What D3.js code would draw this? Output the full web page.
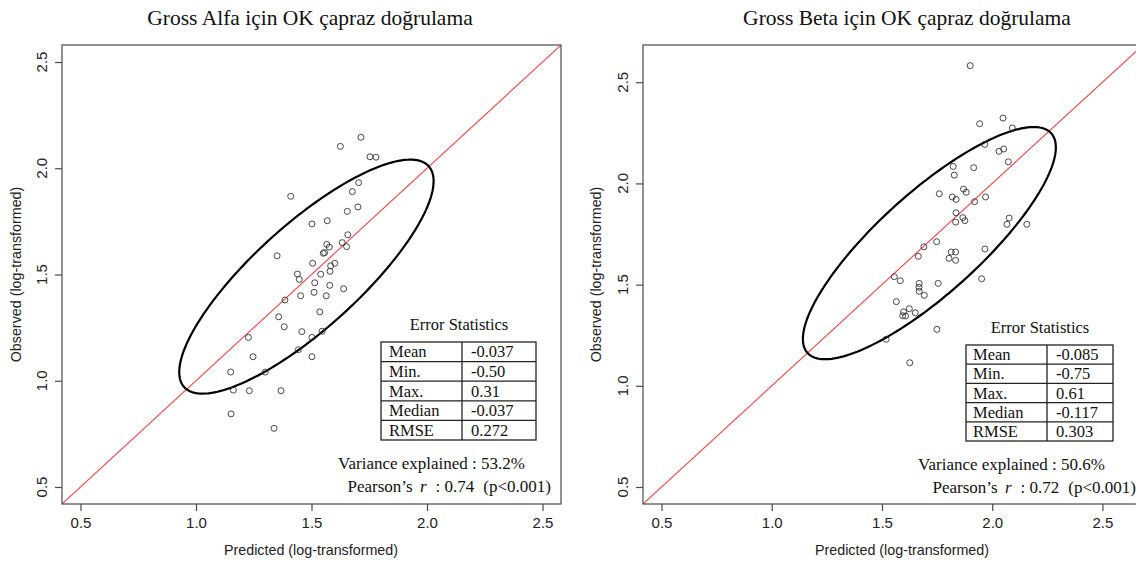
<!DOCTYPE html>
<html><head><meta charset="utf-8">
<script src="https://cdn.jsdelivr.net/npm/d3@7"></script>
<style>body{margin:0;background:#fff;overflow:hidden} svg{display:block}</style>
</head><body>
<svg id="chart" width="1136" height="563"></svg>
<script>
// ---------- data ----------
const tickValues = [0.5, 1.0, 1.5, 2.0, 2.5];
const statLabels = ["Mean", "Min.", "Max.", "Median", "RMSE"];

const alfaPredicted = [1.714,1.625,1.753,1.779,1.704,1.677,1.410,1.701,1.655,1.568,1.502,1.657,1.633,1.566,1.577,1.652,1.551,1.557,1.351,1.505,1.601,1.583,1.580,1.439,1.447,1.540,1.514,1.579,1.639,1.453,1.511,1.564,1.385,1.536,1.358,1.382,1.458,1.546,1.502,1.227,1.443,1.247,1.502,1.150,1.300,1.162,1.231,1.368,1.152,1.338];
const alfaObserved  = [2.146,2.103,2.054,2.052,1.932,1.890,1.868,1.818,1.797,1.753,1.738,1.687,1.650,1.642,1.629,1.631,1.600,1.603,1.588,1.553,1.553,1.541,1.515,1.502,1.477,1.501,1.461,1.449,1.433,1.400,1.416,1.400,1.380,1.324,1.301,1.254,1.231,1.233,1.204,1.204,1.146,1.113,1.113,1.041,1.041,0.956,0.953,0.953,0.844,0.776];
const alfaStats = ["-0.037", "-0.50", "0.31", "-0.037", "0.272"];
const alfaVariance = "53.2%";
const alfaPearson = "0.74";
const alfaEllipse = {cx: 1.478, cy: 1.490, a: 0.742, b: 0.236, angle: 45};

const betaPredicted = [1.900,1.943,2.049,2.091,1.966,2.031,2.052,2.073,1.823,1.916,1.828,1.870,1.882,1.760,1.819,1.836,1.970,1.920,1.836,1.867,1.876,1.834,2.077,2.067,2.157,1.748,1.690,1.665,1.814,1.834,1.804,1.834,1.967,1.556,1.583,1.669,1.755,1.952,1.668,1.669,1.692,1.565,1.624,1.651,1.598,1.594,1.607,1.749,1.519,1.626];
const betaObserved  = [2.582,2.295,2.323,2.274,2.193,2.159,2.170,2.107,2.084,2.078,2.041,1.972,1.956,1.949,1.933,1.921,1.933,1.910,1.855,1.831,1.816,1.809,1.829,1.798,1.798,1.712,1.687,1.640,1.661,1.661,1.630,1.620,1.676,1.539,1.519,1.506,1.506,1.529,1.487,1.467,1.447,1.416,1.381,1.361,1.365,1.346,1.345,1.279,1.230,1.114];
const betaStats = ["-0.085", "-0.75", "0.61", "-0.117", "0.303"];
const betaVariance = "50.6%";
const betaPearson = "0.72";
const betaEllipse = {cx: 1.715, cy: 1.705, a: 0.775, b: 0.240, angle: 45};

// ---------- layout ----------
const panels = [
  {title: "Gross Alfa için OK çapraz doğrulama", titleX: 310,
   x0: 62, x1: 561, y0: 45, y1: 504, domain: [0.42, 2.58],
   pred: alfaPredicted, obs: alfaObserved, stats: alfaStats,
   variance: alfaVariance, pearson: alfaPearson, ell: alfaEllipse,
   yLabX: 42, yTitleX: 16, xTitleX: 311,
   tbl: {x0: 381, x1: 536, xd: 462, y0: 342, y1: 440, titleX: 459, titleY: 330, labX: 389, valX: 471},
   varEnd: 525, pearEnd: 551, varY: 469, pearY: 492},
  {title: "Gross Beta için OK çapraz doğrulama", titleX: 907,
   x0: 643, x1: 1143, y0: 45, y1: 504, domain: [0.416, 2.684],
   pred: betaPredicted, obs: betaObserved, stats: betaStats,
   variance: betaVariance, pearson: betaPearson, ell: betaEllipse,
   yLabX: 623, yTitleX: 596, xTitleX: 902,
   tbl: {x0: 966, x1: 1113, xd: 1047, y0: 345, y1: 441, titleX: 1040, titleY: 333, labX: 973, valX: 1056},
   varEnd: 1105, pearEnd: 1136, varY: 470, pearY: 493}
];

const svg = d3.select("#chart");
const serif = "'Liberation Serif', 'Times New Roman', serif";
const sans = "'Liberation Sans', Arial, sans-serif";
const axisCol = "#4a4a4a";

panels.forEach((p, pi) => {
  const x = d3.scaleLinear().domain(p.domain).range([p.x0, p.x1]);
  const y = d3.scaleLinear().domain(p.domain).range([p.y1, p.y0]);
  const g = svg.append("g");

  const clipId = "clip" + pi;
  svg.append("clipPath").attr("id", clipId).append("rect")
    .attr("x", p.x0).attr("y", p.y0).attr("width", p.x1 - p.x0).attr("height", p.y1 - p.y0);

  // title
  g.append("text").attr("x", p.titleX).attr("y", 25).attr("text-anchor", "middle")
    .attr("font-family", serif).attr("font-size", 21.5).attr("fill", "#111").text(p.title);

  // 1:1 line
  g.append("line").attr("clip-path", `url(#${clipId})`)
    .attr("x1", x(p.domain[0])).attr("y1", y(p.domain[0]))
    .attr("x2", x(p.domain[1])).attr("y2", y(p.domain[1]))
    .attr("stroke", "#ee4444").attr("stroke-width", 1.1);

  // ellipse
  const e = p.ell, th = e.angle * Math.PI / 180;
  const pts = d3.range(0, 361, 2).map(t => {
    const r = t * Math.PI / 180;
    return [e.cx + e.a * Math.cos(r) * Math.cos(th) - e.b * Math.sin(r) * Math.sin(th),
            e.cy + e.a * Math.cos(r) * Math.sin(th) + e.b * Math.sin(r) * Math.cos(th)];
  });
  g.append("path").attr("d", d3.line().x(d => x(d[0])).y(d => y(d[1]))(pts))
    .attr("fill", "none").attr("stroke", "#000").attr("stroke-width", 2.2);

  // points
  g.selectAll("circle.pt").data(p.pred.map((v, i) => [v, p.obs[i]])).join("circle")
    .attr("class", "pt").attr("cx", d => x(d[0])).attr("cy", d => y(d[1])).attr("r", 3)
    .attr("fill", "none").attr("stroke", "#333").attr("stroke-width", 0.9);

  // box
  g.append("rect").attr("x", p.x0).attr("y", p.y0).attr("width", p.x1 - p.x0).attr("height", p.y1 - p.y0)
    .attr("fill", "none").attr("stroke", axisCol).attr("stroke-width", 1.2);

  // x axis
  const xa = g.append("g").attr("transform", `translate(0,${p.y1})`)
    .call(d3.axisBottom(x).tickValues(tickValues).tickSize(7).tickPadding(6).tickFormat(d3.format(".1f")));
  xa.select(".domain").remove();
  xa.selectAll("line").attr("stroke", axisCol).attr("stroke-width", 1.2);
  xa.selectAll("text").attr("font-family", sans).attr("font-size", 15).attr("fill", "#222");

  // y axis
  const ya = g.append("g").attr("transform", `translate(${p.x0},0)`)
    .call(d3.axisLeft(y).tickValues(tickValues).tickSize(7).tickFormat(""));
  ya.select(".domain").remove();
  ya.selectAll("line").attr("stroke", axisCol).attr("stroke-width", 1.2);
  g.selectAll("text.ylab").data(tickValues).join("text").attr("class", "ylab")
    .attr("transform", d => `translate(${p.yLabX},${y(d)}) rotate(-90)`)
    .attr("text-anchor", "middle").attr("dy", "0.35em")
    .attr("font-family", sans).attr("font-size", 15).attr("fill", "#222")
    .text(d3.format(".1f"));

  // axis titles
  g.append("text").attr("x", p.xTitleX).attr("y", 555)
    .attr("text-anchor", "middle").attr("font-family", sans).attr("font-size", 14.3).attr("fill", "#222")
    .text("Predicted (log-transformed)");
  g.append("text").attr("transform", `translate(${p.yTitleX},${(p.y0 + p.y1) / 2}) rotate(-90)`)
    .attr("text-anchor", "middle").attr("dy", "0.35em")
    .attr("font-family", sans).attr("font-size", 14.3).attr("fill", "#222")
    .text("Observed (log-transformed)");

  // error statistics table
  const t = p.tbl;
  g.append("text").attr("x", t.titleX).attr("y", t.titleY).attr("text-anchor", "middle")
    .attr("font-family", serif).attr("font-size", 16.5).attr("fill", "#111").text("Error Statistics");
  const rh = (t.y1 - t.y0) / statLabels.length;
  g.append("rect").attr("x", t.x0).attr("y", t.y0).attr("width", t.x1 - t.x0).attr("height", t.y1 - t.y0)
    .attr("fill", "#fff").attr("stroke", "#222").attr("stroke-width", 1.3);
  g.append("line").attr("x1", t.xd).attr("x2", t.xd).attr("y1", t.y0).attr("y2", t.y1)
    .attr("stroke", "#222").attr("stroke-width", 1.3);
  statLabels.forEach((lab, i) => {
    if (i > 0) g.append("line").attr("x1", t.x0).attr("x2", t.x1)
      .attr("y1", t.y0 + rh * i).attr("y2", t.y0 + rh * i).attr("stroke", "#222").attr("stroke-width", 1.3);
    const cy = t.y0 + rh * (i + 0.5);
    g.append("text").attr("x", t.labX).attr("y", cy).attr("dy", "0.34em")
      .attr("font-family", serif).attr("font-size", 16.5).attr("fill", "#111").text(lab);
    g.append("text").attr("x", t.valX).attr("y", cy).attr("dy", "0.34em")
      .attr("font-family", serif).attr("font-size", 16.5).attr("fill", "#111").text(p.stats[i]);
  });

  g.append("text").attr("x", p.varEnd).attr("y", p.varY).attr("text-anchor", "end")
    .attr("font-family", serif).attr("font-size", 17).attr("fill", "#111")
    .text("Variance explained : " + p.variance);
  const pt = g.append("text").attr("x", p.pearEnd).attr("y", p.pearY).attr("text-anchor", "end")
    .attr("font-family", serif).attr("font-size", 17).attr("fill", "#111");
  pt.append("tspan").text("Pearson’s ");
  pt.append("tspan").attr("dx", 3).attr("font-style", "italic").text("r");
  pt.append("tspan").attr("dx", 9).text(": " + p.pearson);
  pt.append("tspan").attr("dx", 9).text("(p<0.001)");
});
</script>
</body></html>
